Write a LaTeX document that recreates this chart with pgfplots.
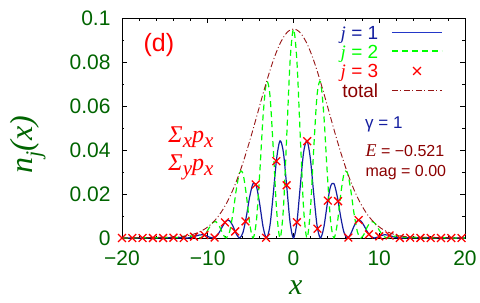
\documentclass[border=0pt]{standalone}
\usepackage{pgfplots}
\pgfplotsset{compat=1.18}
\usepackage{pgfplotstable}
\usepackage{fontspec}
\setmainfont{Liberation Sans}
\newfontfamily\serif{Liberation Serif}
\definecolor{dgreen}{RGB}{0,100,0}
\definecolor{dblue}{RGB}{20,30,160}
\definecolor{lblue}{RGB}{35,55,200}
\definecolor{dred}{RGB}{139,0,0}
\definecolor{tot}{RGB}{150,20,20}
\definecolor{lgreen}{RGB}{0,255,0}
\pgfplotsset{marklegend/.style={legend image code/.code={\draw[##1] plot coordinates {(25pt,1pt)};}},
  bluelegend/.style={legend image code/.code={\draw[lblue, line width=1.4pt] (0pt,1pt) -- (50pt,1pt);}},
  greenlegend/.style={legend image code/.code={\draw[lgreen, line width=1.6pt, dash pattern=on 6pt off 4pt] (0pt,1.5pt) -- (50pt,1.5pt);}}}

\pgfplotstableread{
x j1 j2 tot
-20 0 0 0
-13.3518 0.000125 0.00025 0.00050
-12.9591 0.00005 0.00058 0.00068
-12.5664 0 0.00091 0.00091
-12.1737 0.00009 0.00104 0.00122
-11.7810 0.00040 0.00080 0.00160
-11.3883 0.00089 0.00031 0.00209
-10.9956 0.00136 0 0.00271
-10.6029 0.00149 0.00051 0.00348
-10.2102 0.00111 0.00222 0.00443
-9.8175 0.00041 0.00476 0.00558
-9.4248 0 0.00697 0.00697
-9.0321 0.00063 0.00736 0.00862
-8.6394 0.00265 0.00529 0.01058
-8.2467 0.00548 0.00188 0.01285
-7.8540 0.00774 0 0.01548
-7.4613 0.00789 0.00271 0.01848
-7.0686 0.00546 0.01093 0.02185
-6.6759 0.00188 0.02186 0.02561
-6.2832 0 0.02975 0.02975
-5.8905 0.00251 0.02923 0.03424
-5.4978 0.00976 0.01953 0.03905
-5.1051 0.01884 0.00646 0.04414
-4.7124 0.02472 0 0.04944
-4.3197 0.02342 0.00804 0.05488
-3.9270 0.01509 0.03018 0.06036
-3.5343 0.00482 0.05615 0.06579
-3.1416 0 0.07106 0.07106
-2.7489 0.00557 0.06493 0.07607
-2.3562 0.02017 0.04035 0.08069
-1.9635 0.03620 0.01242 0.08482
-1.5708 0.04418 0 0.08835
-1.1781 0.03892 0.01336 0.09120
-0.7854 0.02332 0.04665 0.09329
-0.3927 0.00693 0.08072 0.09457
0 0 0.09500 0.09500
0.3927 0.00693 0.08072 0.09457
0.7854 0.02332 0.04665 0.09329
1.1781 0.03892 0.01336 0.09120
1.5708 0.04418 0 0.08835
1.9635 0.03620 0.01242 0.08482
2.3562 0.02017 0.04035 0.08069
2.7489 0.00557 0.06493 0.07607
3.1416 0 0.07106 0.07106
3.5343 0.00482 0.05615 0.06579
3.9270 0.01509 0.03018 0.06036
4.3197 0.02342 0.00804 0.05488
4.7124 0.02472 0 0.04944
5.1051 0.01884 0.00646 0.04414
5.4978 0.00976 0.01953 0.03905
5.8905 0.00251 0.02923 0.03424
6.2832 0 0.02975 0.02975
6.6759 0.00188 0.02186 0.02561
7.0686 0.00546 0.01093 0.02185
7.4613 0.00789 0.00271 0.01848
7.8540 0.00774 0 0.01548
8.2467 0.00548 0.00188 0.01285
8.6394 0.00265 0.00529 0.01058
9.0321 0.00063 0.00736 0.00862
9.4248 0 0.00697 0.00697
9.8175 0.00041 0.00476 0.00558
10.2102 0.00111 0.00222 0.00443
10.6029 0.00149 0.00051 0.00348
10.9956 0.00136 0 0.00271
11.3883 0.00089 0.00031 0.00209
11.7810 0.00040 0.00080 0.00160
12.1737 0.00009 0.00104 0.00122
12.5664 0 0.00091 0.00091
12.9591 0.00005 0.00058 0.00068
13.3518 0.000125 0.00025 0.00050
20 0 0 0
}\curves

\pgfplotstableread{
x j3
-20 0
-18.8 0
-17.6 0
-16.4 0
-15.2 0
-14.0 0.00015
-12.8 0.00002
-11.6 0.00062
-10.4 0.00135
-9.2 0.00020
-8.0 0.00708
-6.8 0.00298
-5.6 0.00753
-4.4 0.02434
-3.2 0.00012
-2.0 0.03492
-0.8 0.02399
0.4 0.00717
1.6 0.04402
2.8 0.00423
4.0 0.01699
5.2 0.01674
6.4 0.00019
7.6 0.00814
8.8 0.00167
10.0 0.00074
11.2 0.00114
12.4 0.00001
13.6 0.00015
14.8 0.00003
16.0 0
17.2 0
18.4 0
19.6 0
}\marksj

\begin{document}
\begin{tikzpicture}
\begin{axis}[
  at={(0pt,0pt)}, anchor=south west,
  scale only axis, width=343pt, height=220pt,
  xmin=-20, xmax=20, ymin=0, ymax=0.1,
  xtick={-20,-10,0,10,20}, xticklabels={−20,−10,0,10,20},
  ytick={0,0.02,0.04,0.06,0.08,0.1}, yticklabels={0,0.02,0.04,0.06,0.08,0.1},
  minor x tick num=4, minor y tick num=1,
  tick align=inside,
  major tick length=5pt, minor tick length=2.5pt,
  tick style={black, line width=0.6pt},
  axis line style={line width=0.8pt},
  ticklabel style={font=\fontsize{21}{21}\selectfont, text=dgreen},
  xticklabel style={yshift=-9pt},
  yticklabel style={xshift=-8pt},
  xlabel={\serif\itshape x},
  xlabel style={font=\fontsize{30}{30}\selectfont, text=dgreen, at={(axis description cs:0.507,-0.225)}, anchor=center},
  ylabel={\serif\itshape n\raisebox{-0.25em}{\fontsize{22}{22}\selectfont j}(x)},
  ylabel style={font=\fontsize{32}{32}\selectfont, text=dgreen, at={(axis description cs:-0.274,0.423)}, anchor=center},
  clip mode=individual,
  legend cell align=right,
  legend plot pos=right,
  legend image code/.code={\draw[#1] (0pt,1pt) -- (50pt,1pt);},
  legend style={draw=none, fill=none, at={(1,1)}, anchor=north east, xshift=-22pt, yshift=-6pt,
    font=\fontsize{19}{19}\selectfont, inner xsep=0pt, inner ysep=0pt,
    row sep=0.5pt, column sep=11pt},
]
\addplot[dblue, line width=1.2pt, smooth, bluelegend] table[x=x, y=j1] {\curves};
\addlegendentry{\textcolor{dblue}{{\serif\itshape j} = 1}}
\addplot[lgreen, line width=1.2pt, dash pattern=on 6pt off 4pt, smooth, greenlegend] table[x=x, y=j2] {\curves};
\addlegendentry{\textcolor{lgreen}{{\serif\itshape j} = 2}}
\addplot[red, only marks, mark=x, mark size=5.5pt, mark options={line width=1.3pt}, marklegend] table[x=x, y=j3] {\marksj};
\addlegendentry{\textcolor{red}{{\serif\itshape j} = 3}}
\addplot[tot, line width=0.9pt, dash pattern=on 6pt off 2.5pt on 1pt off 2.5pt, smooth] table[x=x, y=tot] {\curves};
\addlegendentry{\textcolor{dred}{total}}

\node[anchor=base west, text=red, font=\fontsize{25}{25}\selectfont] at (axis cs:-17.9,0.085) {(d)};
\node[anchor=base west, text=red, font=\fontsize{24}{24}\selectfont] at (axis cs:-14.99,0.0436) {\serif\itshape Σ\raisebox{-0.22em}{\fontsize{21}{21}\selectfont x}p\raisebox{-0.22em}{\fontsize{21}{21}\selectfont x}};
\node[anchor=base west, text=red, font=\fontsize{24}{24}\selectfont] at (axis cs:-14.99,0.0309) {\serif\itshape Σ\raisebox{-0.22em}{\fontsize{21}{21}\selectfont y}p\raisebox{-0.22em}{\fontsize{21}{21}\selectfont x}};
\node[anchor=base west, text=dblue, font=\fontsize{17}{17}\selectfont] at (axis cs:7.95,0.0499) {γ = 1};
\node[anchor=base west, text=dred, font=\fontsize{16}{16}\selectfont] at (axis cs:8.0,0.03695) {{\serif\itshape\fontsize{18}{18}\selectfont E} = −0.521};
\node[anchor=base west, text=dred, font=\fontsize{16}{16}\selectfont] at (axis cs:8.0,0.0279) {mag = 0.00};
\end{axis}
\pgfresetboundingbox
\path[use as bounding box] (-122pt,-65pt) rectangle (358pt,238pt);
\end{tikzpicture}
\end{document}
